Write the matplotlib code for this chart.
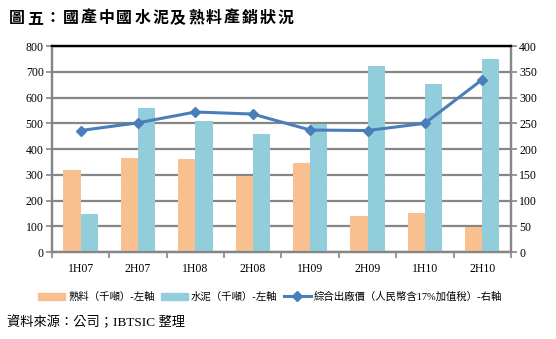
import numpy as np
import matplotlib.pyplot as plt
from matplotlib.lines import Line2D
from matplotlib.patches import Patch

plt.rcParams['font.family'] = ['Liberation Serif', 'Noto Sans CJK TC']

periods = ['1H07', '2H07', '1H08', '2H08', '1H09', '2H09', '1H10', '2H10']
clinker = [317, 366, 361, 296, 345, 139, 150, 98]
cement = [148, 559, 509, 458, 496, 722, 652, 750]
price = [236, 251, 272, 268, 237, 236, 250, 335]

fig = plt.figure(figsize=(5.56, 3.39), dpi=100)
ax = fig.add_axes([0.0935, 0.2566, 0.8255, 0.6074])
ax2 = ax.twinx()

x = np.arange(len(periods))
w = 0.3
ax.bar(x - w / 2, clinker, w, color='#F9C08F', zorder=3)
ax.bar(x + w / 2, cement, w, color='#92CDDC', zorder=3)
ax2.plot(x, price, color='#4A7EBB', lw=2.2, marker='D', ms=5, zorder=4)

ax.set_xlim(-0.5, len(periods) - 0.5)
ax.set_ylim(0, 800)
ax.set_yticks(range(0, 801, 100))
ax2.set_ylim(0, 400)
ax2.set_yticks(range(0, 401, 50))

ax.set_xticks(x)
ax.set_xticklabels(periods)
ax.set_xticks(np.arange(-0.5, len(periods)), minor=True)
ax.tick_params(axis='x', which='major', length=0, pad=8, labelsize=8.5)
ax.tick_params(axis='x', which='minor', length=4, width=1.2, color='#868686', direction='out')
ax.tick_params(axis='y', length=4, width=1.2, color='#868686', labelsize=8.5, pad=2)
ax2.tick_params(axis='y', length=4, width=1.2, color='#868686', labelsize=8.5, pad=2)

ax.grid(axis='y', color='#868686', lw=1.6, zorder=0)
for a in (ax, ax2):
    for s in ('left', 'right', 'bottom'):
        a.spines[s].set_color('#868686')
        a.spines[s].set_linewidth(1.6)
    a.spines['top'].set_color('black')
    a.spines['top'].set_linewidth(1.6)
ax.set_zorder(ax2.get_zorder() - 1)
ax.patch.set_visible(True)
ax2.patch.set_visible(False)

# title with wide character spacing like the original
title = '圖五：國產中國水泥及熟料產銷狀況'
for i, ch in enumerate(title):
    fig.text(0.016 + i * 0.0322, 0.945, ch, fontsize=11.5, fontweight='bold',
             va='center', ha='left')

handles = [
    Patch(color='#F9C08F'),
    Patch(color='#92CDDC'),
    Line2D([], [], color='#4A7EBB', lw=2.2, marker='D', ms=5),
]
labels = ['熟料（千噸）-左軸', '水泥（千噸）-左軸', '綜合出廠價（人民幣含17%加值稅）-右軸']
fig.legend(handles, labels, loc='center left', bbox_to_anchor=(0.055, 0.125), ncol=3,
           frameon=False, fontsize=7.5, handlelength=2.6, handleheight=0.7,
           columnspacing=0.6, handletextpad=0.3, borderpad=0.2)

fig.text(0.013, 0.05, '資料來源：公司；IBTSIC 整理', fontsize=9.5, va='center')

fig.savefig('out.png', dpi=100)
